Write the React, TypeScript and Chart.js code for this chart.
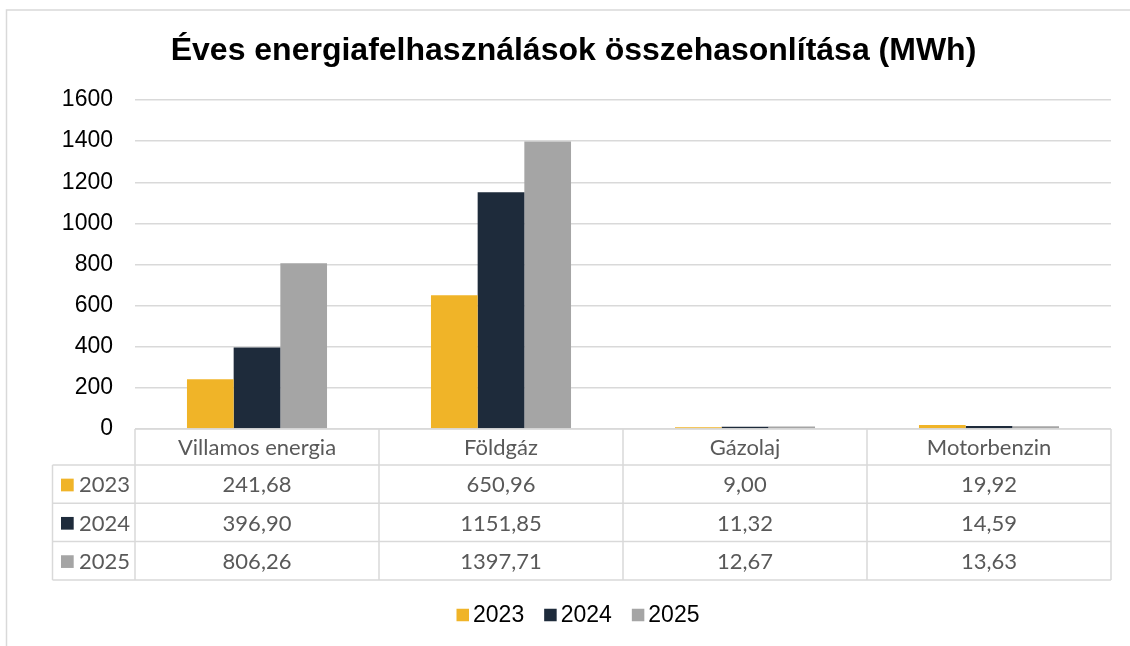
import React, { useEffect, useRef } from "react";
import { Chart, registerables } from "chart.js";

Chart.register(...registerables);

const TITLE = "Éves energiafelhasználások összehasonlítása (MWh)";
const categories = ["Villamos energia", "Földgáz", "Gázolaj", "Motorbenzin"];
const seriesLabels = ["2023", "2024", "2025"];
const values2023 = [241.68, 650.96, 9.0, 19.92];
const values2024 = [396.9, 1151.85, 11.32, 14.59];
const values2025 = [806.26, 1397.71, 12.67, 13.63];
const seriesValues = [values2023, values2024, values2025];
const seriesColors = ["#F0B428", "#1E2B3B", "#A5A5A5"];
const yMin = 0;
const yMax = 1600;
const yStep = 200;

const GRID = "#D9D9D9";
const TABLE_FONT = "22px Lato, 'Open Sans', sans-serif";
const TABLE_COLOR = "#595959";

const fmt = (v: number) => v.toFixed(2).replace(".", ",");

const decorPlugin = {
  id: "decor",
  beforeDraw(chart: any) {
    const ctx = chart.ctx;
    ctx.save();
    ctx.fillStyle = "#fff";
    ctx.fillRect(0, 0, chart.width, chart.height);
    ctx.strokeStyle = GRID;
    ctx.lineWidth = 1.5;
    ctx.beginPath();
    ctx.moveTo(6.5, chart.height);
    ctx.lineTo(6.5, 10);
    ctx.lineTo(chart.width, 10);
    ctx.stroke();
    ctx.restore();
  },
  afterDraw(chart: any) {
    const ctx = chart.ctx;
    const area = chart.chartArea;
    const xs = chart.scales.x;
    const n = categories.length;
    const colW = (area.right - area.left) / n;
    const top = area.bottom;
    const headerH = 36;
    const rowH = 38.3;
    const leftX = 52.5;
    const bottom = top + headerH + rowH * seriesLabels.length;

    ctx.save();
    // Title
    ctx.fillStyle = "#000";
    ctx.font = "bold 32px 'Liberation Sans', Arial, sans-serif";
    ctx.textAlign = "center";
    ctx.textBaseline = "alphabetic";
    ctx.fillText(TITLE, 573.5, 60);

    // Table lines
    ctx.strokeStyle = GRID;
    ctx.lineWidth = 1.5;
    ctx.beginPath();
    ctx.moveTo(area.left, top);
    ctx.lineTo(area.right, top);
    for (let r = 0; r <= seriesLabels.length; r++) {
      const y = top + headerH + r * rowH;
      ctx.moveTo(leftX, y);
      ctx.lineTo(area.right, y);
    }
    for (let i = 0; i <= n; i++) {
      const x = area.left + i * colW;
      ctx.moveTo(x, top);
      ctx.lineTo(x, bottom);
    }
    ctx.moveTo(leftX, top + headerH);
    ctx.lineTo(leftX, bottom);
    ctx.stroke();

    // Table text
    ctx.font = TABLE_FONT;
    ctx.fillStyle = TABLE_COLOR;
    ctx.textAlign = "center";
    ctx.textBaseline = "middle";
    categories.forEach((c, i) => {
      ctx.fillText(c, xs.getPixelForValue(i), top + headerH / 2 + 1);
    });
    seriesLabels.forEach((lab, r) => {
      const cy = top + headerH + rowH * r + rowH / 2 + 1;
      ctx.fillStyle = seriesColors[r];
      ctx.fillRect(61, cy - 6.5, 12.7, 12.7);
      ctx.fillStyle = TABLE_COLOR;
      ctx.textAlign = "left";
      ctx.fillText(lab, 79, cy);
      ctx.textAlign = "center";
      seriesValues[r].forEach((v, i) => {
        ctx.fillText(fmt(v), xs.getPixelForValue(i), cy);
      });
    });

    // Legend
    ctx.font = "23px 'Liberation Sans', Arial, sans-serif";
    ctx.textBaseline = "middle";
    ctx.textAlign = "left";
    const sq = 12.5;
    const gapIn = 4;
    const gapOut = 20;
    const widths = seriesLabels.map((l) => ctx.measureText(l).width);
    const total =
      widths.reduce((a, w) => a + sq + gapIn + w, 0) + gapOut * (seriesLabels.length - 1);
    let x = 578 - total / 2;
    const ly = 615;
    seriesLabels.forEach((l, i) => {
      ctx.fillStyle = seriesColors[i];
      ctx.fillRect(x, ly - sq / 2, sq, sq);
      ctx.fillStyle = "#000";
      ctx.fillText(l, x + sq + gapIn, ly + 1);
      x += sq + gapIn + widths[i] + gapOut;
    });
    ctx.restore();
  },
};

export default function App() {
  const ref = useRef<HTMLCanvasElement | null>(null);
  useEffect(() => {
    if (!ref.current) return;
    const chart = new Chart(ref.current, {
      type: "bar",
      data: {
        labels: categories,
        datasets: seriesLabels.map((l, i) => ({
          label: l,
          data: seriesValues[i],
          backgroundColor: seriesColors[i],
          borderWidth: 0,
          categoryPercentage: 0.574,
          barPercentage: 1,
        })),
      },
      options: {
        responsive: false,
        animation: false,
        devicePixelRatio: 1,
        layout: { padding: { left: 8, top: 100, right: 19, bottom: 217 } },
        plugins: {
          legend: { display: false },
          title: { display: false },
          tooltip: { enabled: false },
        },
        scales: {
          x: { display: false },
          y: {
            min: yMin,
            max: yMax,
            ticks: {
              stepSize: yStep,
              padding: 22,
              color: "#000",
              font: { family: "'Liberation Sans', Arial, sans-serif", size: 23 },
              callback: (v: any) => String(v),
            },
            grid: { color: GRID, lineWidth: 1.5, drawTicks: false },
            border: { display: false },
            afterFit: (s: any) => {
              s.width = 127;
            },
          },
        },
      },
      plugins: [decorPlugin],
    } as any);
    return () => chart.destroy();
  }, []);
  return (
    <div style={{ position: "fixed", left: 0, top: 0, width: 1130, height: 646, background: "#fff" }}>
      <canvas ref={ref} width={1130} height={646} style={{ display: "block", width: 1130, height: 646 }} />
    </div>
  );
}
